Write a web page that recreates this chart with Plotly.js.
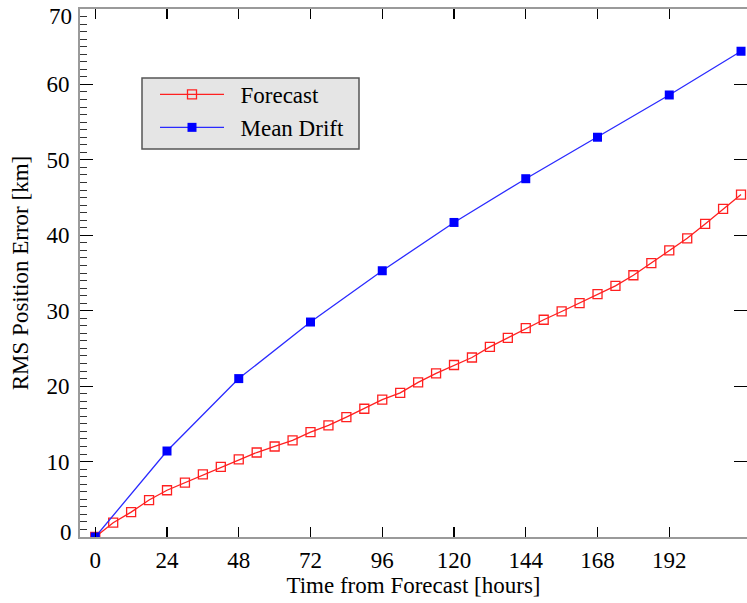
<!DOCTYPE html>
<html>
<head>
<meta charset="utf-8">
<script src="https://cdn.plot.ly/plotly-3.0.1.min.js"></script>
<style>html,body{margin:0;padding:0;overflow:hidden;background:#fff;}</style>
</head>
<body>
<div id="chart" style="width:747px;height:603px;"></div>
<script>
// Forecast: every 6 hours
const forecastHours = [0,6,12,18,24,30,36,42,48,54,60,66,72,78,84,90,96,102,108,114,120,126,132,138,144,150,156,162,168,174,180,186,192,198,204,210,216];
const forecastError = [0,1.9,3.3,4.9,6.2,7.2,8.3,9.3,10.3,11.2,12.0,12.8,13.9,14.8,15.9,17.0,18.2,19.1,20.5,21.7,22.8,23.8,25.2,26.4,27.7,28.8,29.9,31.0,32.2,33.3,34.7,36.3,38.0,39.6,41.5,43.5,45.4];
// Mean drift: every 24 hours
const driftHours = [0,24,48,72,96,120,144,168,192,216];
const driftError = [0,11.4,21.0,28.5,35.3,41.7,47.5,53.0,58.6,64.4];
// Tick labels
const xTicks = [0,24,48,72,96,120,144,168,192];
const yTicks = [0,10,20,30,40,50,60,70];
const yTickText = ['', '10', '20', '30', '40', '50', '60', ''];
const seriesNames = ['Forecast', 'Mean Drift'];

const FONT = 'Liberation Serif, Times New Roman, serif';
const AXISCOL = '#9a9a9a';
const PAD = '\u00a0\u00a0';

const traces = [
  {x: forecastHours, y: forecastError, type: 'scatter', mode: 'lines+markers', name: PAD + seriesNames[0],
   line: {color: '#ff2020', width: 1.3},
   marker: {symbol: 'square-open', size: 9, color: '#ff2020', line: {width: 1.3, color: '#ff2020'}}},
  {x: driftHours, y: driftError, type: 'scatter', mode: 'lines+markers', name: PAD + seriesNames[1],
   line: {color: '#2a2aff', width: 1.3},
   marker: {symbol: 'square', size: 9, color: '#0000ff'}},
];

// plot area in pixels: x 80..747, y 9..537
const L = 80, T = 9, W = 667, H = 528;
const px = v => (v - L) / W;
const py = v => 1 - (v - T) / H;

const layout = {
  width: 747, height: 603,
  margin: {l: L, r: 0, t: T, b: 603 - T - H},
  paper_bgcolor: '#fff', plot_bgcolor: '#fff',
  font: {family: FONT, size: 23, color: '#000'},
  showlegend: true,
  legend: {x: px(155), y: py(73), xanchor: 'left', yanchor: 'top',
    bgcolor: 'rgba(0,0,0,0)', borderwidth: 0,
    font: {family: FONT, size: 23, color: '#000'}, itemwidth: 64, tracegroupgap: 0},
  shapes: [
    {type: 'rect', xref: 'paper', yref: 'paper', x0: px(142), x1: px(359), y0: py(149), y1: py(78),
     fillcolor: '#e5e5e5', line: {color: '#555', width: 1.5}, layer: 'above'}
  ],
  xaxis: {
    range: [-5.1, 218], tickmode: 'array', tickvals: xTicks,
    ticks: 'inside', ticklen: 10, tickwidth: 1.2, tickcolor: '#000',
    showline: true, linecolor: AXISCOL, linewidth: 2, mirror: 'ticks',
    showgrid: false, zeroline: false,
    tickfont: {family: FONT, size: 23, color: '#000'},
    ticklabelstandoff: 1,
    title: {text: 'Time from Forecast [hours]', font: {family: FONT, size: 23, color: '#000'}, standoff: 0}
  },
  yaxis: {
    range: [0, 70], tickmode: 'array', tickvals: yTicks, ticktext: yTickText,
    ticks: 'inside', ticklen: 13, tickwidth: 1.2, tickcolor: '#000',
    minor: {dtick: 1, ticks: 'inside', ticklen: 7, tickwidth: 1, tickcolor: '#333', showgrid: false},
    showline: true, linecolor: AXISCOL, linewidth: 2, mirror: true,
    showgrid: false, zeroline: false,
    tickfont: {family: FONT, size: 23, color: '#000'},
    ticklabelstandoff: 4,
    title: {text: 'RMS Position Error [km]', font: {family: FONT, size: 23, color: '#000'}, standoff: 11}
  },
  yaxis2: {
    overlaying: 'y', side: 'right', matches: 'y', range: [0, 70],
    tickmode: 'array', tickvals: yTicks, showticklabels: false,
    ticks: 'inside', ticklen: 13, tickwidth: 1.2, tickcolor: '#000',
    showline: false, showgrid: false, zeroline: false
  },
  annotations: [
    {text: '0', xref: 'paper', yref: 'y', x: 0, y: 0, xanchor: 'right', yanchor: 'middle', xshift: -6, yshift: 5, showarrow: false, font: {family: FONT, size: 23, color: '#000'}},
    {text: '70', xref: 'paper', yref: 'y', x: 0, y: 70, xanchor: 'right', yanchor: 'middle', xshift: -6, yshift: -7, showarrow: false, font: {family: FONT, size: 23, color: '#000'}}
  ]
};

// invisible trace that carries the right-side tick axis
traces.push({x: [0], y: [0], yaxis: 'y2', type: 'scatter', mode: 'markers', marker: {opacity: 0}, showlegend: false, hoverinfo: 'skip'});

Plotly.newPlot('chart', traces, layout, {displayModeBar: false, staticPlot: true});
</script>
</body>
</html>
